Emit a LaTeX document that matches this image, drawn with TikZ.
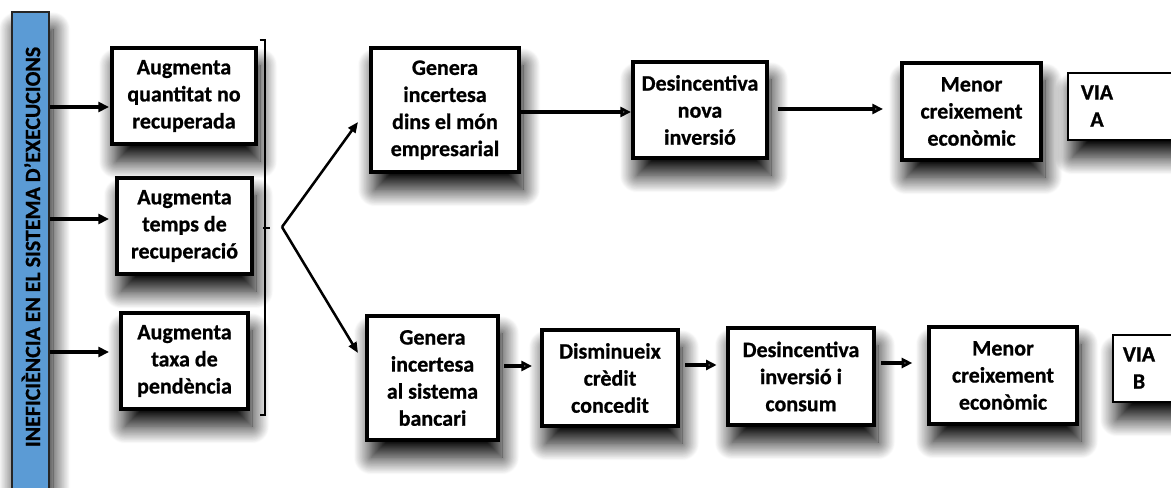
\documentclass[tikz,border=0pt]{standalone}
\usepackage{fontspec}
\setmainfont{Carlito}[BoldFeatures={FakeBold=0.8}]
\usetikzlibrary{arrows.meta,shadows.blur}
\definecolor{barblue}{HTML}{5B9BD5}
\tikzset{
  x=0.75pt, y=-0.75pt,
  shd/.style={blur shadow={shadow xshift=3pt, shadow yshift=-13pt, shadow blur radius=13pt, shadow opacity=100, shadow blur steps=30}},
  box/.style={draw=black, line width=3pt, fill=white, align=center, inner sep=0pt,
    font=\fontsize{16.5}{20.3}\selectfont\bfseries, shd},
  viabox/.style={draw=black, line width=2.2pt, fill=white, inner sep=0pt, shd},
  txt/.style={align=center, inner sep=0pt, font=\fontsize{16.5}{20.3}\selectfont\bfseries},
  arr/.style={-{Triangle[length=8pt,width=7.5pt]}, line width=2.5pt},
  farr/.style={-{Triangle[length=8pt,width=6.5pt]}, line width=1.9pt},
}
\begin{document}
\begin{tikzpicture}
\useasboundingbox (0,0) rectangle (1171,488);
% left bar
\node[draw=black!85, line width=1.4pt, fill=barblue, minimum width=37*0.75pt, minimum height=490*0.75pt, inner sep=0pt, shd] (bar) at (30.5,257) {};
\node[rotate=90, inner sep=0pt, font=\fontsize{16.4}{19}\selectfont\bfseries] (bartext) at (31,247) {INEFICIÈNCIA EN EL SISTEMA D’EXECUCIONS};
% first column
\node[box, minimum width=144*0.75pt, minimum height=96*0.75pt] (b1) at (184,96) {Augmenta\\quantitat no\\recuperada};
\node[box, minimum width=135*0.75pt, minimum height=96*0.75pt] (b2) at (184.5,226) {Augmenta\\temps de\\recuperació};
\node[box, minimum width=127*0.75pt, minimum height=96*0.75pt] (b3) at (184.5,361) {Augmenta\\taxa de\\pendència};
\coordinate (t1) at (109,107);
\coordinate (t2) at (109,219);
\coordinate (t3) at (109,352);
\draw[arr] (bar.east |- t1) -- (t1);
\draw[arr] (bar.east |- t2) -- (t2);
\draw[arr] (bar.east |- t3) -- (t3);
% bracket
\coordinate (brtop) at (265,40);
\coordinate (brbot) at (265,415);
\draw[line width=1.8pt] ([xshift=-4pt]brtop) -- (brtop) -- (brbot) -- ([xshift=-4pt]brbot);
\coordinate (brmid) at (265,228);
\draw[line width=1.8pt] ([xshift=-1.5pt]brmid) -- ([xshift=4pt]brmid);
% fork
\coordinate (fork) at (282,227);
\coordinate (fup) at (358,122);
\coordinate (fdn) at (358,353);
\draw[farr] (fork) -- (fup);
\draw[farr] (fork) -- (fdn);
% upper path
\node[box, minimum width=148*0.75pt, minimum height=124*0.75pt] (g1) at (445,110) {Genera\\incertesa\\dins el món\\empresarial};
\node[box, minimum width=134*0.75pt, minimum height=96*0.75pt] (d1) at (700,110) {Desincentiva\\nova\\inversió};
\node[box, minimum width=139*0.75pt, minimum height=97*0.75pt] (m1) at (971.5,111.5) {Menor\\creixement\\econòmic};
\draw[viabox] (1068,73) rectangle (1200,140);
\node[txt] (va) at (1097,106) {VIA\\A};
\draw[arr] (g1.east |- 0,112) -- (d1.west |- 0,112);
\coordinate (a1s) at (778,109);
\coordinate (a1e) at (883,109);
\draw[arr] (a1s) -- (a1e);
% lower path
\node[box, minimum width=131*0.75pt, minimum height=124*0.75pt] (g2) at (432.5,378) {Genera\\incertesa\\al sistema\\bancari};
\node[box, minimum width=136*0.75pt, minimum height=96*0.75pt] (d2) at (610,378) {Disminueix\\crèdit\\concedit};
\node[box, minimum width=146*0.75pt, minimum height=97*0.75pt] (d3) at (801,376.5) {Desincentiva\\inversió i\\consum};
\node[box, minimum width=148*0.75pt, minimum height=97*0.75pt] (m2) at (1003,375.5) {Menor\\creixement\\econòmic};
\draw[viabox] (1113,335) rectangle (1200,402);
\node[txt] (vb) at (1139,368) {VIA\\B};
\draw[arr] ([xshift=3pt]g2.east |- 0,366) -- ([xshift=-6pt]d2.west |- 0,366);
\draw[arr] ([xshift=4pt]d2.east |- 0,365) -- ([xshift=-7pt]d3.west |- 0,365);
\draw[arr] ([xshift=4pt]d3.east |- 0,363) -- ([xshift=-11pt]m2.west |- 0,363);
\end{tikzpicture}
\end{document}
